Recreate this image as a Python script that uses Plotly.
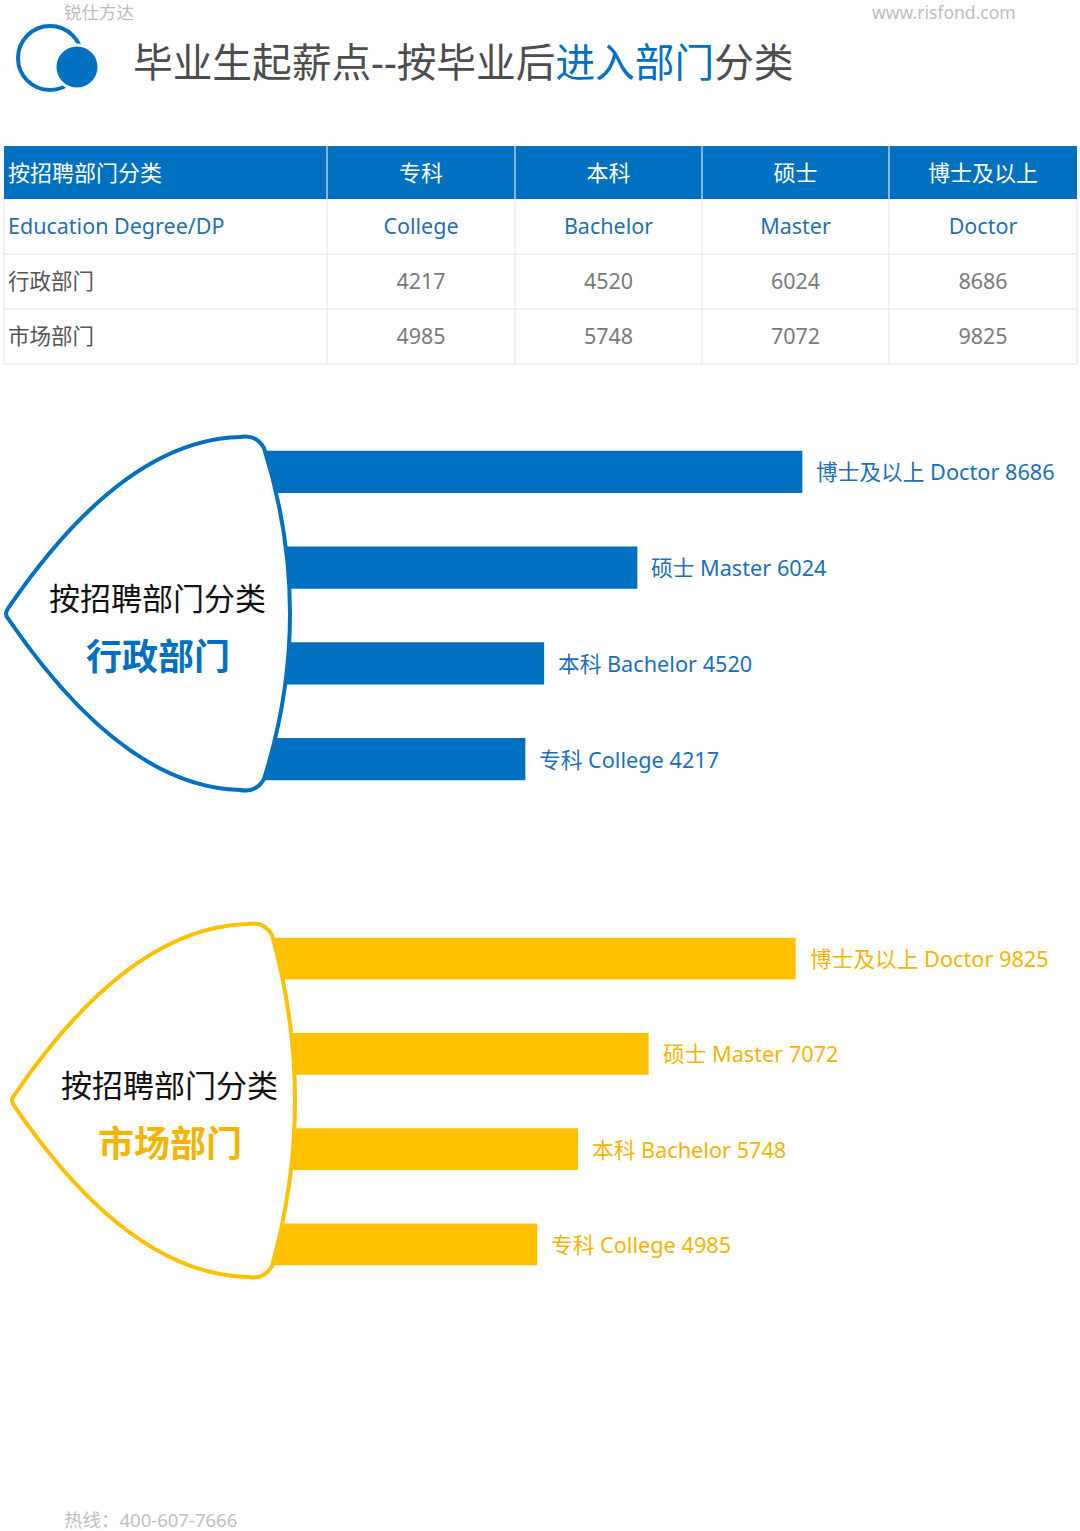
import plotly.graph_objects as go

W, H = 1080, 1531

# data
table_header = ['按招聘部门分类', '专科', '本科', '硕士', '博士及以上']
degree_cn = ['专科', '本科', '硕士', '博士及以上']
degree_en = ['College', 'Bachelor', 'Master', 'Doctor']
dept_admin = '行政部门'
dept_market = '市场部门'
salary_admin = [4217, 4520, 6024, 8686]
salary_market = [4985, 5748, 7072, 9825]

BLUE = '#0070C0'
YELLOW = '#FFC000'
YELLOW_TXT = '#F5B400'
GRID = '#e3e3e3'
FONT = 'Noto Sans, Noto Sans CJK SC, sans-serif'

# table grid in pixels
col_edges = [4, 327, 515, 702, 889, 1077]
row_edges = [146, 199, 254, 309, 364]


def px(x):
    return x / W


def py(y):
    return 1 - y / H


def path(points):
    # points in pixels -> paper coords svg path
    out = ''
    for cmd, pts in points:
        out += cmd + ' ' + ' '.join('{:.5f},{:.5f}'.format(px(a), py(b)) for a, b in pts) + ' '
    return out + 'Z'


def shield(left, top, bottom, apex_x, right_x):
    cy = (top + bottom) / 2
    return path([
        ('M', [(left + 3, cy - 5)]),
        ('Q', [(left + 118, top + 5), (apex_x - 13, top + 2)]),
        ('Q', [(apex_x + 3, top - 1), (apex_x + 11, top + 13)]),
        ('Q', [(2 * right_x - apex_x - 11, cy), (apex_x + 11, bottom - 13)]),
        ('Q', [(apex_x + 3, bottom + 1), (apex_x - 13, bottom - 2)]),
        ('Q', [(left + 118, bottom - 5), (left + 3, cy + 5)]),
        ('Q', [(left - 1, cy), (left + 3, cy - 5)]),
    ])


def hline(y, x0, x1, color):
    return dict(type='line', xref='paper', yref='paper', x0=px(x0), x1=px(x1), y0=py(y), y1=py(y),
                line=dict(color=color, width=1), layer='below')


def vline(x, y0, y1, color):
    return dict(type='line', xref='paper', yref='paper', x0=px(x), x1=px(x), y0=py(y0), y1=py(y1),
                line=dict(color=color, width=1), layer='below')


fig = go.Figure()

# table: plotly puts text at the top of a row, so the text layer sits a bit lower
# and the header band / grid lines are drawn as shapes on the real row edges
cell_values = [['Education Degree/DP', dept_admin, dept_market]]
for en, a, m in zip(degree_en, salary_admin, salary_market):
    cell_values.append([en, a, m])
cell_colors = [['#1f6fb5', '#555555', '#555555']] + [['#1f6fb5', '#7a7a7a', '#7a7a7a']] * 4
aligns = ['left'] + ['center'] * 4
widths = [col_edges[1] - 0] + [b - a for a, b in zip(col_edges[1:-1], col_edges[2:])]

fig.add_trace(go.Table(
    domain=dict(x=[0, px(col_edges[-1])], y=[py(400), py(row_edges[0] + 10)]),
    columnwidth=widths,
    header=dict(values=table_header, fill_color='rgba(0,0,0,0)',
                line=dict(color='rgba(0,0,0,0)', width=0), align=aligns,
                height=row_edges[1] - row_edges[0] + 1,
                font=dict(color='white', size=22, family=FONT)),
    cells=dict(values=cell_values, fill_color='rgba(0,0,0,0)',
               line=dict(color='rgba(0,0,0,0)', width=0), align=aligns,
               height=row_edges[2] - row_edges[1],
               font=dict(color=cell_colors, size=21.5, family=FONT)),
))

# bars
fig.add_trace(go.Bar(x=salary_admin, y=degree_en, orientation='h', width=0.44,
                     marker=dict(color=BLUE, line=dict(width=0)),
                     xaxis='x', yaxis='y', hoverinfo='skip'))
fig.add_trace(go.Bar(x=salary_market, y=degree_en, orientation='h', width=0.44,
                     marker=dict(color=YELLOW, line=dict(width=0)),
                     xaxis='x2', yaxis='y2', hoverinfo='skip'))

annotations = []
for cn, en, a, m in zip(degree_cn, degree_en, salary_admin, salary_market):
    annotations.append(dict(x=a, y=en, xref='x', yref='y', xanchor='left', xshift=12,
                            text='{} {} {}'.format(cn, en, a), showarrow=False,
                            font=dict(size=21.7, color='#1a6fbd', family=FONT)))
    annotations.append(dict(x=m, y=en, xref='x2', yref='y2', xanchor='left', xshift=12,
                            text='{} {} {}'.format(cn, en, m), showarrow=False,
                            font=dict(size=21.7, color=YELLOW_TXT, family=FONT)))


def label(x, y, text, size, color, anchor='center'):
    annotations.append(dict(x=px(x), y=py(y), xref='paper', yref='paper', xanchor=anchor,
                            yanchor='middle', text=text, showarrow=False,
                            font=dict(size=size, color=color, family=FONT)))


label(62, 12, '锐仕方达', 17.5, '#bdbdbd', 'left')
label(1018, 12, 'www.risfond.com', 17.5, '#bdbdbd', 'right')
label(131, 62, '毕业生起薪点--按毕业后<span style="color:#0070C0">进入部门</span>分类', 39.7, '#4d4d4d', 'left')
label(157, 598, '按招聘部门分类', 31, '#111111')
label(158, 656, '<b>' + dept_admin + '</b>', 36, BLUE)
label(169, 1085, '按招聘部门分类', 31, '#111111')
label(170, 1143, '<b>' + dept_market + '</b>', 36, YELLOW_TXT)
label(62, 1519, '热线：400-607-7666', 18.5, '#c0c0c0', 'left')

shapes = [
    # table header band and grid
    dict(type='rect', xref='paper', yref='paper', x0=px(col_edges[0]), x1=px(col_edges[-1]),
         y0=py(row_edges[1]), y1=py(row_edges[0]), fillcolor=BLUE, line=dict(width=0), layer='below'),
]
for x in col_edges[1:-1]:
    shapes.append(vline(x, row_edges[0], row_edges[1], 'white'))
for x in col_edges:
    shapes.append(vline(x, row_edges[1], row_edges[-1], GRID))
for y in row_edges[2:]:
    shapes.append(hline(y, col_edges[0], col_edges[-1], GRID))

shapes += [
    # logo
    dict(type='circle', xref='paper', yref='paper', x0=px(18), x1=px(82), y0=py(90), y1=py(26),
         line=dict(color=BLUE, width=4), fillcolor='white', layer='above'),
    dict(type='circle', xref='paper', yref='paper', x0=px(55), x1=px(99), y0=py(89), y1=py(45),
         line=dict(color='white', width=3), fillcolor=BLUE, layer='above'),
    # diamonds
    dict(type='path', xref='paper', yref='paper', layer='above',
         path=path([('M', [(930, 77), (951, 56), (972, 77), (951, 98)])]),
         line=dict(color=YELLOW, width=4)),
    dict(type='path', xref='paper', yref='paper', layer='above',
         path=path([('M', [(976, 61), (997, 40), (1018, 61), (997, 82)])]),
         line=dict(color=YELLOW, width=4)),
    # shields
    dict(type='path', xref='paper', yref='paper', layer='above',
         path=shield(5, 435, 792, 253, 290), fillcolor='white', line=dict(color=BLUE, width=4)),
    dict(type='path', xref='paper', yref='paper', layer='above',
         path=shield(11, 922, 1279, 261, 295), fillcolor='white', line=dict(color=YELLOW, width=4)),
]

fig.update_layout(
    width=W, height=H,
    margin=dict(l=0, r=0, t=0, b=0),
    paper_bgcolor='white', plot_bgcolor='white',
    showlegend=False,
    font=dict(family=FONT),
    xaxis=dict(domain=[px(264), 1], range=[0, 13166], visible=False, anchor='y'),
    yaxis=dict(domain=[py(807), py(424)], range=[-0.5, 3.5], visible=False, anchor='x'),
    xaxis2=dict(domain=[px(271), 1], range=[0, 15150], visible=False, anchor='y2'),
    yaxis2=dict(domain=[py(1292), py(911)], range=[-0.5, 3.5], visible=False, anchor='x2'),
    annotations=annotations,
    shapes=shapes,
)

fig.write_html('out.html', config={'displayModeBar': False},
               post_script="document.body.style.margin='0';")
